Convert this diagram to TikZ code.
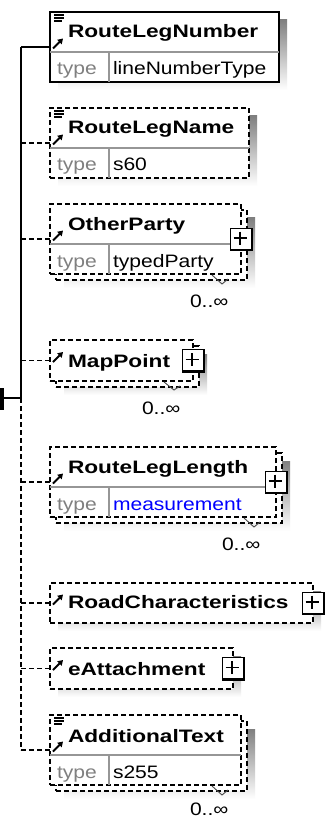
\documentclass[tikz,border=0pt]{standalone}
\usepackage{fontspec}
\setmainfont{Liberation Sans}
\newfontfamily\ttlfont[FakeStretch=1.26]{Liberation Sans}
\newfontfamily\tvlfont[FakeStretch=1.17]{Liberation Sans}
\usetikzlibrary{arrows.meta,calc}
\definecolor{shade}{RGB}{192,192,192}
\definecolor{typegray}{RGB}{128,128,128}
\definecolor{linegray}{RGB}{150,150,150}
\definecolor{tblue}{RGB}{0,0,255}
\tikzset{
  every node/.style={inner sep=0pt, outer sep=0pt},
  shadowbox/.style={fill=shade, draw=none},
  solidbox/.style={draw=black, fill=white, line width=1.6pt},
  dashbox/.style={draw=black, fill=white, line width=1.4pt, dash pattern=on 5pt off 3pt},
  titletext/.style={anchor=base west, font={\ttlfont\bfseries\fontsize{18}{20}\selectfont}},
  valtext/.style={anchor=base west, font={\tvlfont\fontsize{18}{20}\selectfont}},
  keytext/.style={valtext, text=typegray},
  conn/.style={line width=1.4pt},
  dconn/.style={conn, dash pattern=on 5pt off 3pt},
  divline/.style={draw=linegray, line width=1.1pt},
  pbox/.style={draw=black, fill=white, line width=1pt, minimum size=22pt},
  notch/.style={draw=black!70, line width=0.9pt},
}
\newcommand\mkbox[6]{\node[#2, minimum width={(#5)-(#3)}, minimum height={(#6)-(#4)}] (#1) at ({((#3)+(#5))/2},{((#4)+(#6))/2}) {};}
\newcommand\mkplus[2]{%
  \node[pbox] (#1) at (#2) {};
  \draw[line width=2.6pt] (#1.south west) -- (#1.south east) -- (#1.north east);
  \draw[line width=1.3pt] ($(#1.center)+(-7.5,-1)$) -- ($(#1.center)+(5.5,-1)$);
  \draw[line width=1.3pt] ($(#1.center)+(-1,-7.5)$) -- ($(#1.center)+(-1,5.5)$);}
\newcommand\docicon[1]{%
  \draw[line width=1.5pt] ($(#1.north west)+(4,3)$) -- +(10,0);
  \draw[line width=1.5pt] ($(#1.north west)+(4,6)$) -- +(10,0);
  \draw[line width=1.5pt] ($(#1.north west)+(4,9)$) -- +(8,0);}
\newcommand\refarrow[1]{%
  \draw[line width=1.9pt, -{Triangle[length=5pt,width=6pt]}] ($(#1.west)+(3,1.5)$) -- ($(#1.west)+(13,-8.5)$);}
\newcommand\typerow[4]{%
  \draw[divline] ($(#1.north west)+(0,40)$) -- ($(#1.north east)+(0,40)$);
  \draw[divline] ($(#1.north west)+(59,40)$) -- ($(#1.south west)+(59,0)$);
  \node[keytext] (#2k) at ($(#1.north west)+(7,63)$) {type};
  \node[valtext, text=#4] (#2v) at ($(#1.north west)+(63,63)$) {#3};}
\begin{document}
\begin{tikzpicture}[x=1pt, y=-1pt]
\useasboundingbox (0,0) rectangle (325,818);
\fill[white] (0,0) rectangle (325,818);

% ---------- RouteLegNumber
\fill[shade] (58,20) rectangle (287,90);
\mkbox{b1}{solidbox}{50}{12}{279}{82}
\node[titletext] (t1) at ($(b1.north west)+(18,26)$) {RouteLegNumber};
\typerow{b1}{r1}{lineNumberType}{black}
\docicon{b1}
\refarrow{b1}

% ---------- RouteLegName
\fill[shade] (58,116) rectangle (257,186);
\mkbox{b2}{dashbox}{50}{108}{249}{178}
\node[titletext] (t2) at ($(b2.north west)+(18,26)$) {RouteLegName};
\typerow{b2}{r2}{s60}{black}
\docicon{b2}
\refarrow{b2}

% ---------- OtherParty
\fill[shade] (64,218) rectangle (255,288);
\mkbox{k3}{dashbox}{56}{210}{247}{280}
\mkbox{b3}{dashbox}{50}{204}{241}{274}
\node[titletext] (t3) at ($(b3.north west)+(18,26)$) {OtherParty};
\typerow{b3}{r3}{typedParty}{black}
\refarrow{b3}
\mkplus{p3}{b3.east}
\draw[notch] (212,275) -- (222,284) -- (228,279);
\node[valtext] (m3) at (190,307) {0..∞};

% ---------- MapPoint
\fill[shade] (64,354) rectangle (207,395);
\mkbox{k4}{dashbox}{56}{346}{199}{387}
\mkbox{b4}{dashbox}{50}{340}{193}{381}
\node[titletext] (t4) at ($(b4.north west)+(18,27)$) {MapPoint};
\refarrow{b4}
\mkplus{p4}{b4.east}
\draw[notch] (164,382) -- (174,390) -- (180,386);
\node[valtext] (m4) at (142,414) {0..∞};

% ---------- RouteLegLength
\fill[shade] (64,461) rectangle (290,531);
\mkbox{k5}{dashbox}{56}{453}{282}{523}
\mkbox{b5}{dashbox}{50}{447}{276}{517}
\node[titletext] (t5) at ($(b5.north west)+(18,26)$) {RouteLegLength};
\typerow{b5}{r5}{measurement}{tblue}
\refarrow{b5}
\mkplus{p5}{b5.east}
\draw[notch] (244,518) -- (254,527) -- (260,522);
\node[valtext] (m5) at (222,550) {0..∞};

% ---------- RoadCharacteristics
\fill[shade] (58,591) rectangle (321,631);
\mkbox{b6}{dashbox}{50}{583}{313}{623}
\node[titletext] (t6) at ($(b6.north west)+(18,25)$) {RoadCharacteristics};
\refarrow{b6}
\mkplus{p6}{b6.east}

% ---------- eAttachment
\fill[shade] (58,656) rectangle (241,697);
\mkbox{b7}{dashbox}{50}{648}{233}{689}
\node[titletext] (t7) at ($(b7.north west)+(18,27)$) {eAttachment};
\refarrow{b7}
\mkplus{p7}{b7.east}

% ---------- AdditionalText
\fill[shade] (64,729) rectangle (255,799);
\mkbox{k8}{dashbox}{56}{721}{247}{791}
\mkbox{b8}{dashbox}{50}{715}{241}{785}
\node[titletext] (t8) at ($(b8.north west)+(18,27)$) {AdditionalText};
\typerow{b8}{r8}{s255}{black}
\docicon{b8}
\refarrow{b8}
\draw[notch] (212,786) -- (222,795) -- (228,790);
\node[valtext] (m8) at (190,815) {0..∞};

% ---------- connectors
\coordinate (root) at (0,398);
\coordinate (j) at (21,398);
\foreach \i in {1,...,8} { \coordinate (s\i) at (j |- b\i.west); }
\draw[line width=3.5pt] (1.75,388) -- (1.75,410);
\draw[conn] (root) -- (j);
\draw[conn] (s1) -- (j);
\draw[dconn] (j) -- (s8);
\draw[conn] (s1) -- (b1.west);
\foreach \i in {2,...,8} { \draw[dconn] (s\i) -- (b\i.west); }
\end{tikzpicture}
\end{document}
